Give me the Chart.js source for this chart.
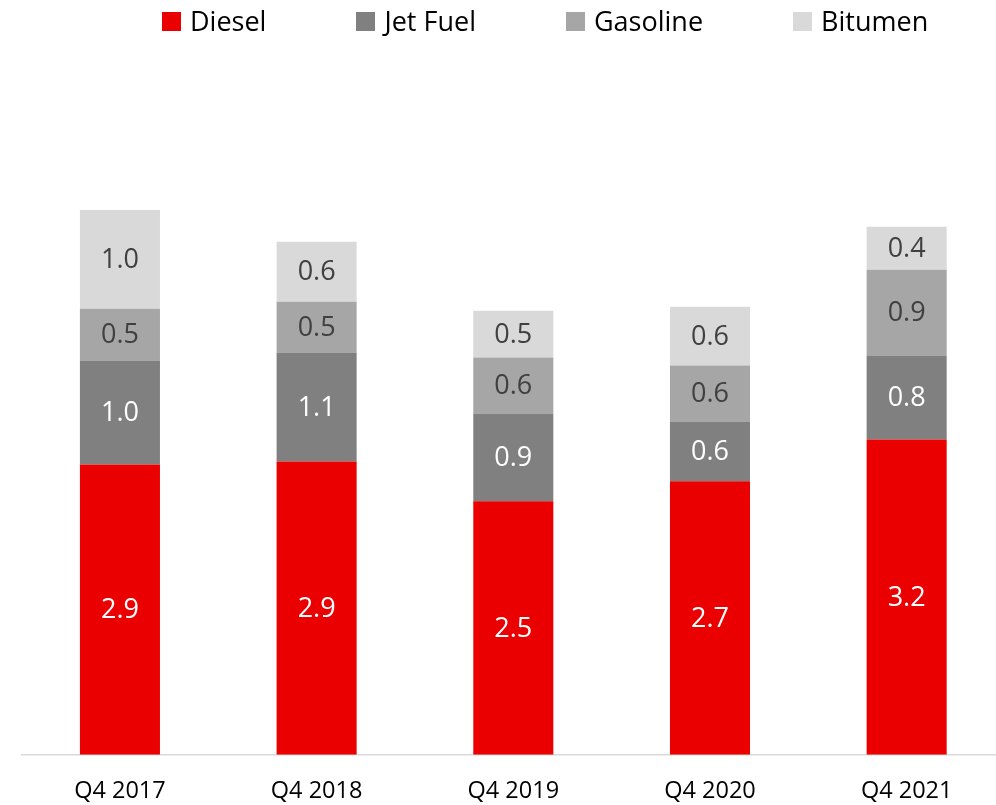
<!DOCTYPE html>
<html>
<head>
  <meta charset="utf-8">
  <title>Product sales by quarter</title>
  <script src="https://cdn.jsdelivr.net/npm/chart.js"></script>
  <style>
    body { margin: 0; background: #fff; font-family: "Open Sans", sans-serif; overflow: hidden; }
    /* plot runs a little past the right edge, as in the original */
    #wrap { position: relative; width: 1005px; height: 805px; }
    #legend { position: absolute; left: 162px; top: 8px; display: flex; gap: 90px; }
    #legend .item { display: flex; align-items: center; font-size: 27px; color: #000; line-height: 26px; }
    #legend .box { width: 19px; height: 19px; margin-right: 9px; }
  </style>
</head>
<body>
<div id="wrap">
  <div id="legend"></div>
  <canvas id="chart"></canvas>
</div>
<script>
const quarters = ['Q4 2017', 'Q4 2018', 'Q4 2019', 'Q4 2020', 'Q4 2021'];
const diesel   = [2.91, 2.94, 2.54, 2.74, 3.16];
const jetFuel  = [1.04, 1.09, 0.88, 0.60, 0.84];
const gasoline = [0.52, 0.51, 0.56, 0.56, 0.86];
const bitumen  = [0.99, 0.60, 0.47, 0.59, 0.43];

const series = [
  {label: 'Diesel',   data: diesel,   color: '#EA0000', text: '#FFFFFF'},
  {label: 'Jet Fuel', data: jetFuel,  color: '#808080', text: '#FFFFFF'},
  {label: 'Gasoline', data: gasoline, color: '#A6A6A6', text: '#404040'},
  {label: 'Bitumen',  data: bitumen,  color: '#D9D9D9', text: '#404040'}
];

// legend in html so the spacing can follow the original
const legend = document.getElementById('legend');
series.forEach(s => {
  const item = document.createElement('div');
  item.className = 'item';
  item.innerHTML = '<span class="box" style="background:' + s.color + '"></span>' + s.label;
  legend.appendChild(item);
});

// values written in the middle of each segment
const barLabels = {
  id: 'barLabels',
  afterDatasetsDraw(chart) {
    const ctx = chart.ctx;
    ctx.save();
    ctx.font = '27px "Open Sans"';
    ctx.textAlign = 'center';
    ctx.textBaseline = 'middle';
    chart.data.datasets.forEach((ds, i) => {
      chart.getDatasetMeta(i).data.forEach((bar, j) => {
        const p = bar.getProps(['x', 'y', 'base'], true);
        ctx.fillStyle = series[i].text;
        ctx.fillText(ds.data[j].toFixed(1), p.x, (p.y + p.base) / 2 + 1);
      });
    });
    ctx.restore();
  }
};

new Chart(document.getElementById('chart'), {
  type: 'bar',
  data: {
    labels: quarters,
    datasets: series.map(s => ({
      label: s.label,
      data: s.data,
      backgroundColor: s.color,
      categoryPercentage: 1,
      barPercentage: 0.407
    }))
  },
  options: {
    responsive: true,
    maintainAspectRatio: false,
    animation: false,
    layout: { padding: { top: 156, left: 21.6, right: 0, bottom: -14 } },
    plugins: {
      legend: { display: false },
      tooltip: { enabled: false }
    },
    scales: {
      x: {
        stacked: true,
        grid: { display: false },
        border: { display: true, color: '#D9D9D9', width: 1.5 },
        ticks: { color: '#000', padding: 14, font: { family: 'Open Sans', size: 23.5 } }
      },
      y: {
        stacked: true,
        display: false,
        min: 0,
        max: 6
      }
    }
  },
  plugins: [barLabels]
});
</script>
</body>
</html>
